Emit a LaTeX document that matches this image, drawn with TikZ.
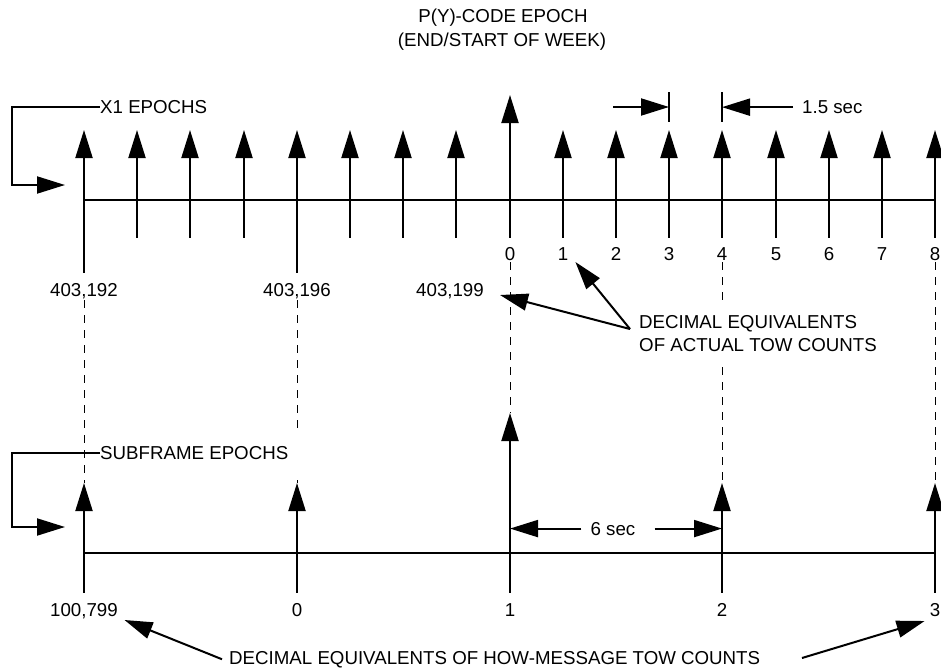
\documentclass[tikz,border=0pt]{standalone}
\usepackage{fontspec}
\setmainfont{Liberation Sans}
\usetikzlibrary{arrows.meta}
\begin{document}
\begin{tikzpicture}[x=1pt,y=-1pt,
  lbl/.style={font=\fontsize{18.7}{22}\selectfont, inner sep=0pt, anchor=base},
  tip/.style={-{Triangle[length=28pt,width=17pt]}},
  axis/.style={line width=2pt},
  guide/.style={line width=1pt, dash pattern=on 8pt off 7pt},
  mask/.style={fill=white},
]
\useasboundingbox (0,0) rectangle (941,669);

% ---------- title ----------
\node[lbl] (title1) at (503,23) {P(Y)-CODE EPOCH};
\node[lbl] (title2) at (502,46) {(END/START OF WEEK)};

% ---------- top timeline (X1 epochs) ----------
\foreach \x [count=\c from 0] in {84,137,190,244,297,350,403,456,510,563,616,669,722,776,829,882,935}{
  \coordinate (t\c) at (\x,200);
}
% bottom timeline (subframe epochs)
\foreach \j in {0,4,8,12,16}{
  \coordinate (b\j) at (t\j |- 0,553);
}

% dashed guides
\draw[guide] ([shift={(0,100)}]t0) -- ([shift={(0,-70)}]b0);
\draw[guide] ([shift={(0,100)}]t4) -- ([shift={(0,-70)}]b4);
\draw[guide] ([shift={(0,62)}]t8) -- ([shift={(0,-140)}]b8);
\draw[guide] ([shift={(0,62)}]t12) -- ([shift={(0,-70)}]b12);
\draw[guide] ([shift={(0,62)}]t16) -- ([shift={(0,-70)}]b16);

% white backgrounds of the text blocks
\fill[mask] (636,303) rectangle (905,360);
\fill[mask] (100,433) rectangle (301,477);

\draw[axis] (t0) -- (t16);
\foreach \i in {0,1,2,3,4,5,6,7,9,10,11,12,13,14,15,16}
  \draw[axis,tip] (t\i) -- ++(0,-70);
\draw[axis,tip] (t8) -- ++(0,-105);
\foreach \i in {0,...,16}
  \draw[axis] (t\i) -- ++(0,38);
\draw[axis] (t0) -- ++(0,73);
\draw[axis] (t4) -- ++(0,73);

% top count labels
\foreach \i/\n in {8/0,9/1,10/2,11/3,12/4,13/5,14/6,15/7,16/8}
  \node[lbl] (n\n) at ([shift={(0,60)}]t\i) {\n};
\node[lbl] (l192) at ([shift={(0,96)}]t0) {403,192};
\node[lbl] (l196) at ([shift={(0,96)}]t4) {403,196};
\node[lbl, anchor=base east] (l199) at (484,296) {403,199};

% X1 epochs bracket
\node[lbl, anchor=base west] (x1) at (100,113) {X1 EPOCHS};
\draw[axis,tip] (x1.west) -- ++(-88,0) |- (65,185);

% 1.5 sec
\draw[axis] ([shift={(0,-108)}]t11) -- ([shift={(0,-78)}]t11);
\draw[axis] ([shift={(0,-108)}]t12) -- ([shift={(0,-78)}]t12);
\draw[axis,tip] ([shift={(-56,-93)}]t11) -- ([shift={(0,-93)}]t11);
\node[lbl, anchor=base west] (sec15) at (802,113.5) {1.5 sec};
\draw[axis,tip] ([xshift=-9pt]sec15.west) -- (t12 |- sec15.west);

% decimal equivalents of actual TOW counts
\node[lbl, anchor=base west] (dA) at (639,328) {DECIMAL EQUIVALENTS};
\node[lbl, anchor=base west] (dB) at (639,351) {OF ACTUAL TOW COUNTS};
\coordinate (dtail) at ([shift={(-9,1)}]dA.base west);
\draw[axis,tip] (dtail) -- ([shift={(7,2)}]n1.base east);
\draw[axis,tip] (dtail) -- ([shift={(16,-1)}]l199.base east);

% ---------- bottom timeline ----------
\draw[axis] (b0) -- (b16);
\foreach \j in {0,4,12,16}
  \draw[axis,tip] (b\j) -- ++(0,-70);
\draw[axis,tip] (b8) -- ++(0,-140);
\foreach \j in {0,4,8,12,16}
  \draw[axis] (b\j) -- ++(0,40);

\node[lbl] (lb0) at ([shift={(0,63)}]b0) {100,799};
\node[lbl] (lb4) at ([shift={(0,63)}]b4) {0};
\node[lbl] (lb8) at ([shift={(0,63)}]b8) {1};
\node[lbl] (lb12) at ([shift={(0,63)}]b12) {2};
\node[lbl] (lb16) at ([shift={(0,63)}]b16) {3};

% subframe epochs bracket
\node[lbl, anchor=base west] (sf) at (100,459) {SUBFRAME EPOCHS};
\draw[axis,tip] (sf.west) -- ++(-88,0) |- (65,527);

% 6 sec
\node[lbl] (sec6) at (613,535) {6 sec};
\draw[axis,tip] ([xshift=-9pt]sec6.west) -- (b8 |- sec6.west);
\draw[axis,tip] ([xshift=19pt]sec6.east) -- (b12 |- sec6.east);

% decimal equivalents of HOW-message TOW counts
\node[lbl, anchor=base west] (dH) at (229,664) {DECIMAL EQUIVALENTS OF HOW-MESSAGE TOW COUNTS};
\draw[axis,tip] ([xshift=-7pt]dH.west) -- ([shift={(6.5,4)}]lb0.base east);
\draw[axis,tip] (802,658) -- ([shift={(-5,5)}]lb16.base west);
\end{tikzpicture}
\end{document}
